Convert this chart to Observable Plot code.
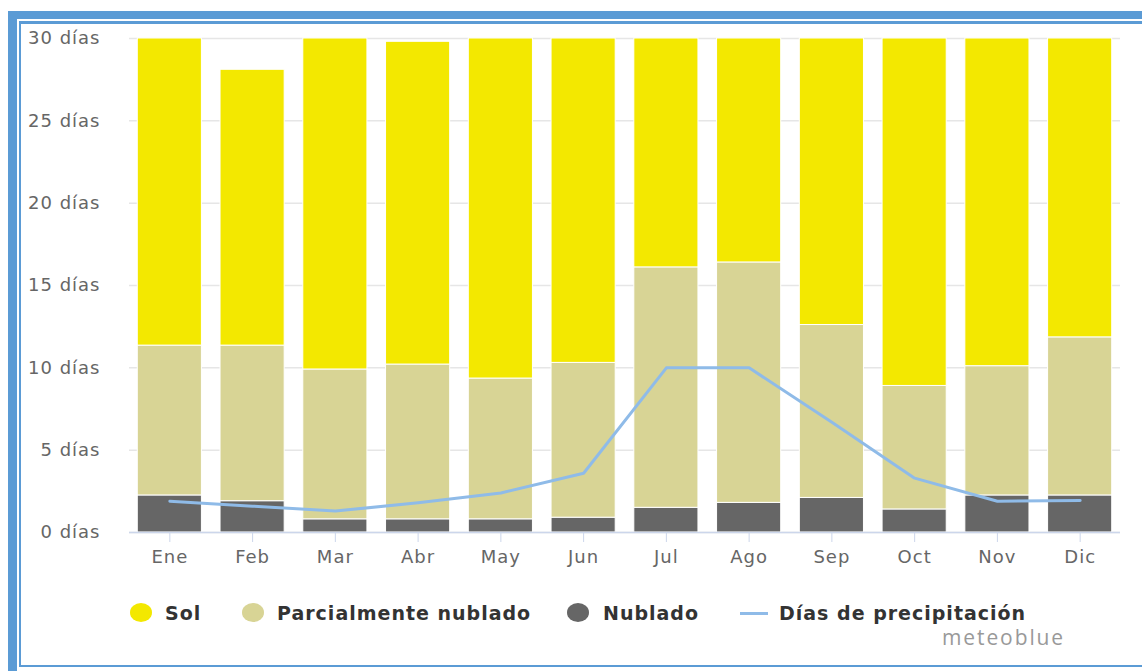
<!DOCTYPE html>
<html><head><meta charset="utf-8">
<script src="https://cdn.jsdelivr.net/npm/d3@7"></script>
<script src="https://cdn.jsdelivr.net/npm/@observablehq/plot@0.6"></script>
<style>
body{margin:0;background:#fff;width:1142px;height:671px;overflow:hidden;position:relative;font-family:"DejaVu Sans",sans-serif}
#outer{position:absolute;left:8px;top:11px;width:1200px;height:700px;border-left:9px solid #5b9bd5;border-top:8px solid #5b9bd5}
#inner{position:absolute;left:19px;top:21px;width:1200px;height:641px;border:2px solid #5b9bd5;border-top-width:3px}
#chart{position:absolute;left:0;top:0}
.leg{position:absolute;top:601px;font-weight:bold;font-size:19px;letter-spacing:1px;color:#333;white-space:nowrap;line-height:24px}
.dot{position:absolute;top:603px;width:22px;height:19px;border-radius:50%}
.lin{position:absolute;top:612px;width:28px;height:3px;background:#8fbbe8}
#credit{position:absolute;left:942px;top:623px;font-size:21px;letter-spacing:1.9px;color:#999;font-family:"Open Sans",sans-serif;line-height:28px}
svg text{letter-spacing:1px}
</style></head>
<body>
<div id="outer"></div>
<div id="inner"></div>
<div id="chart"></div>
<div id="legend"></div>
<div id="credit">meteoblue</div>
<script>
const months = ["Ene","Feb","Mar","Abr","May","Jun","Jul","Ago","Sep","Oct","Nov","Dic"];
const nublado = [2.25,1.9,0.8,0.8,0.8,0.9,1.5,1.8,2.1,1.4,2.25,2.25];
const parcial = [9.1,9.45,9.1,9.4,8.55,9.4,14.6,14.6,10.5,7.5,7.85,9.6];
const sol = [18.65,16.75,20.1,19.6,20.65,19.7,13.9,13.6,17.4,21.1,19.9,18.15];
const precip = [1.9,1.6,1.3,1.8,2.4,3.6,10,10,6.7,3.3,1.9,1.95];
const yTicks = [0,5,10,15,20,25,30];
const seriesNames = ["Nublado","Parcialmente nublado","Sol"];
const seriesColors = ["#666666","#d8d495","#f3e800"];

const stacked = [];
months.forEach((m,i)=>{
  stacked.push({month:m, series:"Nublado", value:nublado[i]});
  stacked.push({month:m, series:"Parcialmente nublado", value:parcial[i]});
  stacked.push({month:m, series:"Sol", value:sol[i]});
});
const line = months.map((m,i)=>({month:m, value:precip[i]}));

const chart = Plot.plot({
  width:1142, height:580,
  marginLeft:129, marginRight:22, marginTop:38, marginBottom:48,
  style:{fontFamily:"DejaVu Sans, sans-serif", fontSize:"18px", color:"#666", background:"transparent"},
  x:{domain:months, paddingInner:0.225, paddingOuter:0.1, round:false, label:null},
  y:{domain:[0,30], label:null},
  color:{domain:seriesNames, range:seriesColors},
  marks:[
    Plot.gridY(yTicks, {stroke:"#e6e6e6", strokeOpacity:1, strokeWidth:1.5}),
    Plot.barY(stacked, {x:"month", y:"value", fill:"series", stroke:"#fff", strokeWidth:1, order:seriesNames}),
    Plot.ruleY([0], {stroke:"#ccd6eb", strokeWidth:1.5}),
    Plot.axisX({tickSize:10, tickPadding:8, stroke:"#ccd6eb", fill:"#666", fontSize:18}),
    Plot.axisY(yTicks, {tickSize:0, tickPadding:29, tickFormat:d=>d+" días", fill:"#666", fontSize:18}),
    Plot.lineY(line, {x:"month", y:"value", stroke:"#8fbbe8", strokeWidth:3})
  ]
});
document.getElementById("chart").appendChild(chart);

const legendItems = [
  {name:"Sol", color:"#f3e800", type:"dot", x:130, tx:165},
  {name:"Parcialmente nublado", color:"#d8d495", type:"dot", x:242, tx:277},
  {name:"Nublado", color:"#666666", type:"dot", x:567, tx:603},
  {name:"Días de precipitación", color:"#8fbbe8", type:"line", x:740, tx:779}
];
const leg = document.getElementById("legend");
legendItems.forEach(it=>{
  const s = document.createElement("div");
  s.className = it.type==="dot" ? "dot" : "lin";
  s.style.left = it.x+"px";
  s.style.background = it.color;
  leg.appendChild(s);
  const t = document.createElement("div");
  t.className = "leg";
  t.style.left = it.tx+"px";
  t.textContent = it.name;
  leg.appendChild(t);
});
</script>
</body></html>
